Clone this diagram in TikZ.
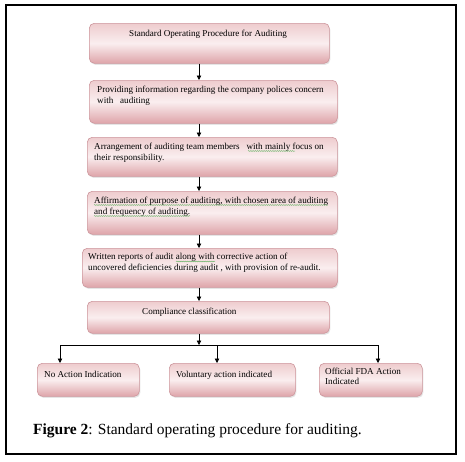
\documentclass[tikz,border=0pt]{standalone}
\usepackage{fontspec}
\setmainfont{Liberation Serif}
\usetikzlibrary{arrows.meta,shadows,decorations.pathmorphing}
\definecolor{pinkTop}{RGB}{238,204,206}
\definecolor{pinkMid}{RGB}{250,238,239}
\definecolor{pinkBot}{RGB}{222,164,169}
\definecolor{boxborder}{RGB}{205,150,156}
\definecolor{spellgreen}{RGB}{90,175,90}
\begin{document}
\begin{tikzpicture}[x=1pt,y=-1pt,
  pbox/.style={draw=boxborder, line width=0.6pt, rounded corners=5pt,
    top color=pinkTop, bottom color=pinkBot, middle color=pinkMid,
    anchor=north west, inner sep=0pt,
    drop shadow={opacity=0.2, shadow xshift=1pt, shadow yshift=-1.5pt}},
  ptext/.style={anchor=north west, inner sep=0pt, align=left,
    font=\fontsize{9.1}{11}\selectfont},
  arr/.style={draw=black, line width=0.8pt, -{Triangle[length=4.5pt,width=4.5pt]}},
  conn/.style={draw=black, line width=0.8pt},
  wavy/.style={draw=spellgreen, line width=0.4pt, decorate,
    decoration={snake, amplitude=0.45pt, segment length=2.2pt}}]
\useasboundingbox (0,0) rectangle (465,461);
\fill[white] (0,0) rectangle (465,461);
\draw[line width=2pt] (6,5) rectangle (456,454);

% boxes
\node[pbox, minimum width=240pt, minimum height=40pt] (b1) at (89,23) {};
\node[pbox, minimum width=248pt, minimum height=43pt] (b2) at (89,80) {};
\node[pbox, minimum width=250pt, minimum height=39pt] (b3) at (87,137) {};
\node[pbox, minimum width=250pt, minimum height=43pt] (b4) at (87,191) {};
\node[pbox, minimum width=255pt, minimum height=39pt] (b5) at (82,248) {};
\node[pbox, minimum width=242pt, minimum height=32pt] (b6) at (87,301) {};
\node[pbox, minimum width=102pt, minimum height=33pt] (c1) at (37,363) {};
\node[pbox, minimum width=126pt, minimum height=33pt] (c2) at (169,363) {};
\node[pbox, minimum width=103pt, minimum height=33pt] (c3) at (319,363) {};

% texts
\node[ptext] (t1) at (129,29.5) {Standard Operating Procedure for Auditing};
\node[ptext] (t2) at (97,85.5) {Providing information regarding the company polices concern\\with\ \ \ auditing};
\node[ptext] (t3) at (94,142.5) {Arrangement of auditing team members\ \ \ with mainly focus on\\their responsibility.};
\node[ptext] (t4) at (94,196.5) {Affirmation of purpose of auditing, with chosen area of auditing\\and frequency of auditing.};
\node[ptext] (t5) at (88,252.5) {Written reports of audit along with corrective action of\\uncovered deficiencies during audit , with provision of re-audit.};
\node[ptext] (t6) at (142,307.5) {Compliance classification};
\node[ptext] (t7) at (44,370.5) {No Action Indication};
\node[ptext] (t8) at (176,370.5) {Voluntary action indicated};
\node[ptext, font=\fontsize{9.1}{10}\selectfont] (t9) at (325,368) {Official FDA Action\\Indicated};

% spell-check underlines
\draw[wavy] (248,151) -- (295,151);
\draw[wavy] (94,205) -- (328,205);
\draw[wavy] (94,216) -- (190,216);
\draw[wavy] (176,261.5) -- (215,261.5);

% connectors
\coordinate (ax) at (199,0);
\coordinate (jn) at (199,345);
\coordinate (jl) at (60,345);
\coordinate (jm) at (217,345);
\coordinate (jr) at (378,345);
\draw[arr] (b1.south -| ax) -- (b2.north -| ax);
\draw[arr] (b2.south -| ax) -- (b3.north -| ax);
\draw[arr] (b3.south -| ax) -- (b4.north -| ax);
\draw[arr] (b4.south -| ax) -- (b5.north -| ax);
\draw[arr] (b5.south -| ax) -- (b6.north -| ax);
\draw[arr] (b6.south -| ax) -- (jn);
\draw[conn] (jl) -- (jr);
\draw[arr] (jl) -- (c1.north -| jl);
\draw[arr] (jm) -- (c2.north -| jm);
\draw[arr] (jr) -- (c3.north -| jr);

% caption
\node[anchor=base west, inner sep=0pt, font=\fontsize{15.5}{18}\selectfont] (cap) at (33,434) {\textbf{Figure 2}: Standard operating procedure for auditing.};
\end{tikzpicture}
\end{document}
